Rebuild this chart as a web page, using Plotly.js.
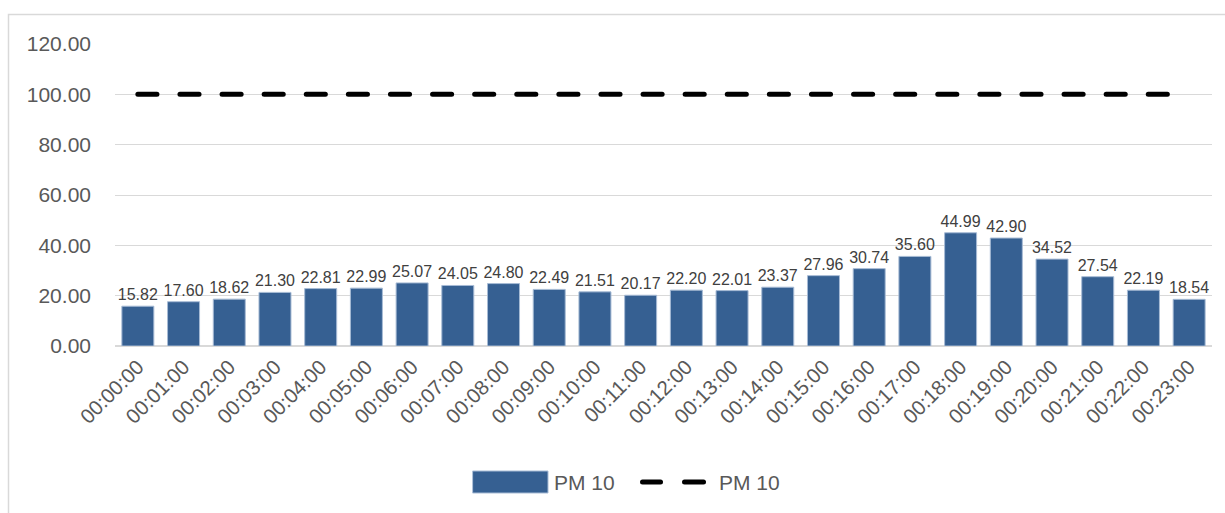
<!DOCTYPE html>
<html>
<head>
<meta charset="utf-8">
<script src="https://cdn.plot.ly/plotly-3.0.1.min.js"></script>
<style>
  html, body { margin: 0; padding: 0; background: #ffffff; }
  #chart { width: 1225px; height: 513px; }
  .scatterlayer .js-line { stroke-linecap: round; }
  .layer-above path, .shapelayer path { stroke-linecap: round; }
</style>
</head>
<body>
<div id="chart"></div>
<script>
// Hourly PM 10 readings and the 100 limit line
const hours = [
  "00:00:00", "00:01:00", "00:02:00", "00:03:00", "00:04:00", "00:05:00",
  "00:06:00", "00:07:00", "00:08:00", "00:09:00", "00:10:00", "00:11:00",
  "00:12:00", "00:13:00", "00:14:00", "00:15:00", "00:16:00", "00:17:00",
  "00:18:00", "00:19:00", "00:20:00", "00:21:00", "00:22:00", "00:23:00"
];
const pm10 = [
  15.82, 17.60, 18.62, 21.30, 22.81, 22.99, 25.07, 24.05, 24.80, 22.49, 21.51, 20.17,
  22.20, 22.01, 23.37, 27.96, 30.74, 35.60, 44.99, 42.90, 34.52, 27.54, 22.19, 18.54
];
const limit = [
  100, 100, 100, 100, 100, 100, 100, 100, 100, 100, 100, 100,
  100, 100, 100, 100, 100, 100, 100, 100, 100, 100, 100, 100
];
const yTicks = [0, 20, 40, 60, 80, 100, 120];
const seriesName = "PM 10";

// plot-area geometry (pixels) used to place the frame and the hand-drawn legend
const W = 1225, H = 513;
const M = { l: 115, r: 13, t: 44, b: 167 };
const PW = W - M.l - M.r, PH = H - M.t - M.b;
const px = x => (x - M.l) / PW;
const py = y => (H - M.b - y) / PH;

const FONT = "Liberation Sans, Arial, sans-serif";
const BAR = "#366092";

const bars = {
  type: "bar",
  x: hours,
  y: pm10,
  name: seriesName,
  marker: { color: BAR, line: { color: "#a7bbd5", width: 1 } },
  text: pm10.map(v => v.toFixed(2)),
  textposition: "outside",
  constraintext: "none",
  cliponaxis: false,
  textfont: { family: FONT, size: 16, color: "#404040" },
  hoverinfo: "x+y",
  showlegend: false
};

const limitLine = {
  type: "scatter",
  mode: "lines",
  x: hours,
  y: limit,
  name: seriesName,
  line: { color: "#000000", width: 5, dash: "19.1px,23px" },
  hoverinfo: "x+y",
  showlegend: false
};

const layout = {
  width: W,
  height: H,
  margin: M,
  paper_bgcolor: "#ffffff",
  plot_bgcolor: "#ffffff",
  bargap: 0.3,
  font: { family: FONT, color: "#595959" },
  xaxis: {
    type: "category",
    tickangle: -45,
    tickfont: { family: FONT, size: 20.5, color: "#595959" },
    showgrid: false,
    showline: false,
    zeroline: false,
    ticks: "",
    ticklabelstandoff: 4,
    fixedrange: true
  },
  yaxis: {
    range: [0, 120],
    tickvals: yTicks,
    ticktext: yTicks.map(v => v.toFixed(2)),
    tickfont: { family: FONT, size: 21, color: "#595959" },
    showgrid: true,
    gridcolor: "#d9d9d9",
    gridwidth: 1.3,
    zeroline: true,
    zerolinecolor: "#d9d9d9",
    zerolinewidth: 2,
    showline: false,
    ticks: "",
    ticklabelstandoff: 23,
    fixedrange: true
  },
  shapes: [
    // outer chart frame
    {
      type: "rect", xref: "paper", yref: "paper", layer: "below",
      x0: px(8.5), x1: px(1240), y0: py(530), y1: py(14.5),
      line: { color: "#d9d9d9", width: 1.5 }, fillcolor: "rgba(0,0,0,0)"
    },
    // legend swatch: bars
    {
      type: "rect", xref: "paper", yref: "paper",
      x0: px(473), x1: px(548), y0: py(493), y1: py(471),
      line: { color: "#a7bbd5", width: 1 }, fillcolor: BAR
    },
    // legend swatch: dashed line
    {
      type: "line", xref: "paper", yref: "paper",
      x0: px(642.5), x1: px(660.5), y0: py(482), y1: py(482),
      line: { color: "#000000", width: 5 }
    },
    {
      type: "line", xref: "paper", yref: "paper",
      x0: px(684.5), x1: px(703.5), y0: py(482), y1: py(482),
      line: { color: "#000000", width: 5 }
    }
  ],
  annotations: [
    {
      xref: "paper", yref: "paper", x: px(552), y: py(482),
      xanchor: "left", yanchor: "middle", showarrow: false,
      text: seriesName, font: { family: FONT, size: 21, color: "#595959" }
    },
    {
      xref: "paper", yref: "paper", x: px(717), y: py(482),
      xanchor: "left", yanchor: "middle", showarrow: false,
      text: seriesName, font: { family: FONT, size: 21, color: "#595959" }
    }
  ],
  showlegend: false
};

Plotly.newPlot("chart", [bars, limitLine], layout, { displayModeBar: false, staticPlot: false });
</script>
</body>
</html>
